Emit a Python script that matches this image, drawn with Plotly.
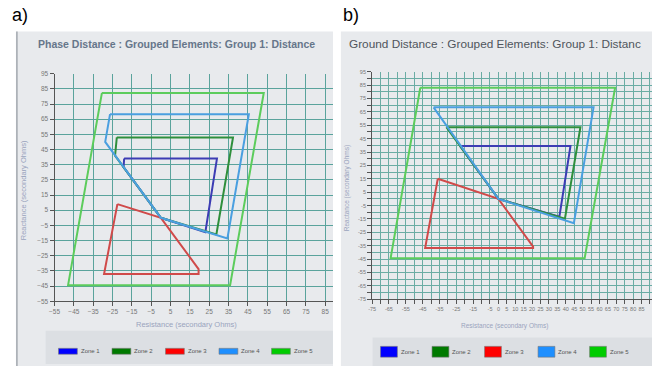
import plotly.graph_objects as go

W, H = 652, 369

# ---------------- data ----------------
zone_names = ["Zone 1", "Zone 2", "Zone 3", "Zone 4", "Zone 5"]
zone_line_colors = ["#3c3cb4", "#2f8f3c", "#d04a4a", "#4a9fe0", "#5ccc5c"]
zone_swatch_colors = ["#0000ff", "#007a00", "#ff0000", "#1e8fff", "#00cc00"]

# a) Phase distance (R, X in secondary ohms)
phase_z1_r = [-19.0, 29.0, 23.0, 0.0, -19.3, -19.0]
phase_z1_x = [39.0, 39.0, -9.5, 0.0, 33.4, 39.0]
phase_z2_r = [-22.8, 37.3, 28.7, 0.0, -23.7, -22.8]
phase_z2_x = [53.0, 53.0, -11.0, 0.0, 41.0, 53.0]
phase_z3_r = [-22.5, 0.0, 19.5, 19.5, -29.4, -22.5]
phase_z3_x = [9.0, 0.0, -33.8, -37.0, -37.0, 9.0]
phase_z4_r = [-26.3, 45.5, 34.4, 0.0, -28.8, -26.3]
phase_z4_x = [68.3, 68.3, -13.6, 0.0, 50.0, 68.3]
phase_z5_r = [-30.5, 53.2, 35.8, -48.0, -30.5]
phase_z5_x = [82.3, 82.3, -44.4, -44.4, 82.3]

# b) Ground distance
ground_z1_r = [-22.8, 42.8, 36.2, 0.0, -22.8]
ground_z1_x = [39.5, 39.5, -13.3, 0.0, 39.5]
ground_z2_r = [-30.9, 48.7, 39.5, 0.0, -30.9]
ground_z2_x = [53.5, 53.5, -14.8, 0.0, 53.5]
ground_z3_r = [-36.0, 0.0, 20.6, 20.6, -43.5, -36.0]
ground_z3_x = [15.0, 0.0, -35.7, -36.7, -36.7, 15.0]
ground_z4_r = [-38.5, 56.5, 44.8, 0.0, -38.5]
ground_z4_x = [68.4, 68.4, -18.2, 0.0, 68.4]
ground_z5_r = [-46.4, 69.3, 51.2, -64.0, -46.4]
ground_z5_x = [83.0, 83.0, -44.3, -44.3, 83.0]

phase_x_ticks = [-55, -45, -35, -25, -15, -5, 5, 15, 25, 35, 45, 55, 65, 75, 85]
phase_y_ticks = [-55, -45, -35, -25, -15, -5, 5, 15, 25, 35, 45, 55, 65, 75, 85, 95]
ground_x_ticks = list(range(-75, 95, 5))
ground_x_labels = ["-75", "", "-65", "", "-55", "", "-45", "", "-35", "", "-25", "", "-15", "",
                   "-5", "0", "5", "10", "15", "20", "25", "30", "35", "40", "45", "50", "55",
                   "60", "65", "70", "75", "80", "85", "90"]
ground_y_ticks = list(range(-75, 100, 5))
ground_y_labels = [str(v) if (v % 10) != 0 else "" for v in ground_y_ticks]

phase_zones = [(phase_z1_r, phase_z1_x), (phase_z2_r, phase_z2_x), (phase_z3_r, phase_z3_x),
               (phase_z4_r, phase_z4_x), (phase_z5_r, phase_z5_x)]
ground_zones = [(ground_z1_r, ground_z1_x), (ground_z2_r, ground_z2_x), (ground_z3_r, ground_z3_x),
                (ground_z4_r, ground_z4_x), (ground_z5_r, ground_z5_x)]

# ---------------- helpers ----------------
def fx(px):
    return px / W

def fy(py):
    return 1 - py / H

FONT = "Liberation Sans, Arial, sans-serif"

fig = go.Figure()
for (r, x), c, n in zip(phase_zones, zone_line_colors, zone_names):
    fig.add_trace(go.Scatter(x=r, y=x, mode="lines", name=n, line=dict(color=c, width=2),
                             xaxis="x", yaxis="y", showlegend=False, hoverinfo="skip"))
for (r, x), c, n in zip(ground_zones, zone_line_colors, zone_names):
    fig.add_trace(go.Scatter(x=r, y=x, mode="lines", name=n, line=dict(color=c, width=2),
                             xaxis="x2", yaxis="y2", showlegend=False, hoverinfo="skip"))

shapes = []
annotations = []

# panel backgrounds
shapes.append(dict(type="rect", xref="paper", yref="paper", x0=fx(10), x1=fx(330), y0=fy(369), y1=fy(28),
                   fillcolor="#e8eaed", line=dict(width=0), layer="below"))
shapes.append(dict(type="line", xref="paper", yref="paper", x0=fx(11), x1=fx(11), y0=fy(369), y1=fy(28),
                   line=dict(color="#a3a8ae", width=1.5), layer="below"))
shapes.append(dict(type="rect", xref="paper", yref="paper", x0=fx(338), x1=fx(652), y0=fy(369), y1=fy(28),
                   fillcolor="#e8eaed", line=dict(width=0), layer="below"))
# legend boxes
shapes.append(dict(type="rect", xref="paper", yref="paper", x0=fx(40), x1=fx(330), y0=fy(367), y1=fy(333),
                   fillcolor="#dcdfe3", line=dict(width=0), layer="below"))
shapes.append(dict(type="rect", xref="paper", yref="paper", x0=fx(370), x1=fx(652), y0=fy(369), y1=fy(340),
                   fillcolor="#dcdfe3", line=dict(width=0), layer="below"))

# custom legends
left_sw_x = [53, 107, 161, 215, 268]
right_sw_x = [378, 430, 483, 537, 589]
for i, n in enumerate(zone_names):
    for sx, y0, y1, w in [(left_sw_x[i], 351, 357, 19), (right_sw_x[i], 349, 360, 17)]:
        shapes.append(dict(type="rect", xref="paper", yref="paper", x0=fx(sx), x1=fx(sx + w),
                           y0=fy(y1), y1=fy(y0), fillcolor=zone_swatch_colors[i],
                           line=dict(color="#777", width=0.6)))
        annotations.append(dict(xref="paper", yref="paper", x=fx(sx + w + 1.5), y=fy((y0 + y1) / 2),
                                text=n, showarrow=False, xanchor="left", yanchor="middle",
                                font=dict(family=FONT, size=6, color="#555")))

# labels a) b)
annotations.append(dict(xref="paper", yref="paper", x=fx(4), y=fy(11), text="a)", showarrow=False,
                        xanchor="left", yanchor="middle", font=dict(family=FONT, size=18, color="#000")))
annotations.append(dict(xref="paper", yref="paper", x=fx(338), y=fy(11), text="b)", showarrow=False,
                        xanchor="left", yanchor="middle", font=dict(family=FONT, size=18, color="#000")))
# panel titles
annotations.append(dict(xref="paper", yref="paper", x=fx(30), y=fy(41),
                        text="<b>Phase Distance : Grouped Elements: Group 1: Distance</b>", showarrow=False,
                        xanchor="left", yanchor="middle", font=dict(family=FONT, size=10.5, color="#66768a")))
annotations.append(dict(xref="paper", yref="paper", x=fx(344), y=fy(41),
                        text="Ground Distance : Grouped Elements: Group 1: Distanc", showarrow=False,
                        xanchor="left", yanchor="middle", font=dict(family=FONT, size=11.8, color="#4f555c")))
# axis titles
annotations.append(dict(xref="paper", yref="paper", x=fx(18), y=fy(190), text="Reactance (secondary Ohms)",
                        showarrow=False, textangle=-90, xanchor="center", yanchor="middle",
                        font=dict(family=FONT, size=7.5, color="#9aa4bd")))
annotations.append(dict(xref="paper", yref="paper", x=fx(182), y=fy(327), text="Resistance (secondary Ohms)",
                        showarrow=False, xanchor="center", yanchor="middle",
                        font=dict(family=FONT, size=7.5, color="#9aa4bd")))
annotations.append(dict(xref="paper", yref="paper", x=fx(345), y=fy(188), text="Reactance (secondary Ohms)",
                        showarrow=False, textangle=-90, xanchor="center", yanchor="middle",
                        font=dict(family=FONT, size=6.5, color="#9aa4bd")))
annotations.append(dict(xref="paper", yref="paper", x=fx(503), y=fy(328), text="Resistance (secondary Ohms)",
                        showarrow=False, xanchor="center", yanchor="middle",
                        font=dict(family=FONT, size=6.5, color="#9aa4bd")))

axis_common = dict(showgrid=True, zeroline=False, showline=True,
                   linecolor="#555", linewidth=1, ticks="outside", ticklen=4, tickcolor="#555",
                   tickfont=dict(family=FONT, size=6.5, color="#777"), fixedrange=True)

fig.update_layout(
    width=W, height=H, margin=dict(l=0, r=0, t=0, b=0),
    paper_bgcolor="#ffffff", plot_bgcolor="#eef0f0",
    showlegend=False,
    xaxis=dict(domain=[fx(49), fx(330)], range=[-55, 89], tickmode="array", tickvals=phase_x_ticks,
               anchor="y", gridcolor="#5aa39c", gridwidth=1, **axis_common),
    yaxis=dict(domain=[fy(303), fy(71)], range=[-55, 95], tickmode="array", tickvals=phase_y_ticks,
               anchor="x", gridcolor="#5aa39c", gridwidth=1, **axis_common),
    xaxis2=dict(domain=[fx(369.5), 1.0], range=[-75, 91.2], tickmode="array", tickvals=ground_x_ticks,
                ticktext=ground_x_labels, anchor="y2", tickangle=0,
                gridcolor="#6aaca4", gridwidth=0.9, **axis_common),
    yaxis2=dict(domain=[fy(301), fy(69)], range=[-75, 95], tickmode="array", tickvals=ground_y_ticks,
                ticktext=ground_y_labels, anchor="x2",
                gridcolor="#6aaca4", gridwidth=0.9, **axis_common),
    shapes=shapes, annotations=annotations,
)
fig.update_xaxes(tickfont_size=5.5, selector=dict(anchor="y2"))
fig.update_yaxes(tickfont_size=5.5, selector=dict(anchor="x2"))

fig.write_html("out.html", config={"displayModeBar": False},
               post_script="document.body.style.margin='0';document.body.style.overflow='hidden';")
